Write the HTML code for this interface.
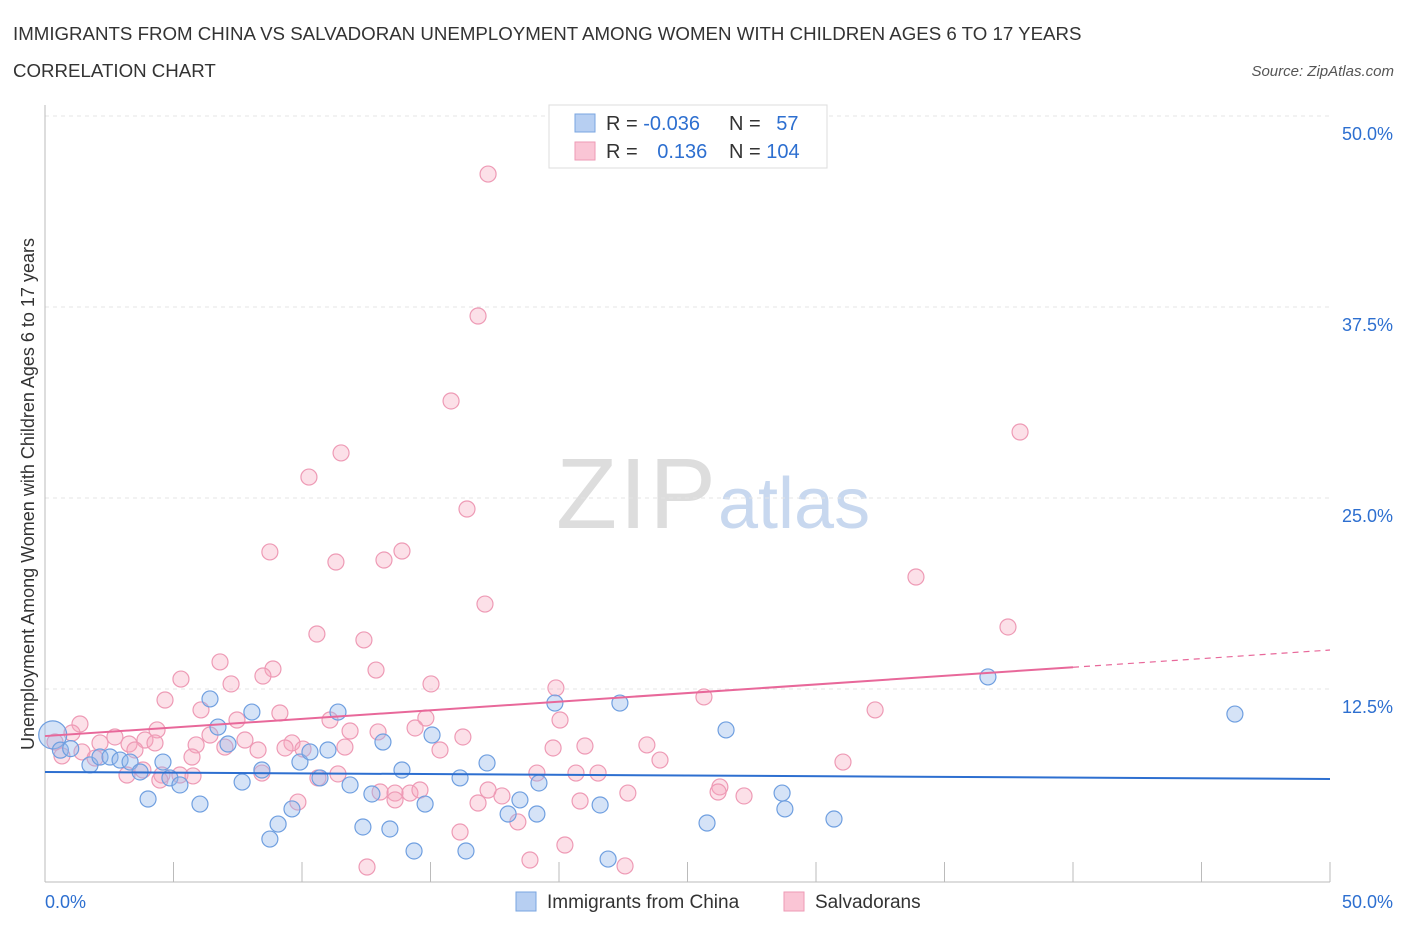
<!DOCTYPE html>
<html><head><meta charset="utf-8"><style>
body{margin:0;background:#fff;font-family:"Liberation Sans",sans-serif;}
svg text{font-family:"Liberation Sans",sans-serif;}
</style></head><body>
<svg id="chart" width="1406" height="930" xmlns="http://www.w3.org/2000/svg">
<text x="13" y="40" font-size="18.7" fill="#333">IMMIGRANTS FROM CHINA VS SALVADORAN UNEMPLOYMENT AMONG WOMEN WITH CHILDREN AGES 6 TO 17 YEARS</text>
<text x="13" y="77" font-size="18.7" fill="#333">CORRELATION CHART</text>
<text x="1394" y="76" font-size="15" fill="#555" font-style="italic" text-anchor="end">Source: ZipAtlas.com</text>
<text x="716" y="528" font-size="100" fill="#ddd" text-anchor="end" font-family="Liberation Serif" textLength="160">ZIP</text>
<text x="718" y="528" font-size="72" fill="#c8d8ef">atlas</text>
<g id="grid"></g>
<g id="axes"></g>
<g id="points"></g>
<g id="lines"></g>
<text transform="translate(34,494) rotate(-90)" font-size="18" fill="#333" text-anchor="middle">Unemployment Among Women with Children Ages 6 to 17 years</text>
<g>
<rect x="549" y="105" width="278" height="63" fill="#fff" stroke="#ddd"/>
<rect x="575" y="114" width="20" height="18" fill="#b7cff2" stroke="#7aa5e0"/>
<rect x="575" y="142" width="20" height="18" fill="#fac5d5" stroke="#ee9ab5"/>
<text x="606" y="130" font-size="20" fill="#333">R = <tspan fill="#2d6fd0">-0.036</tspan></text>
<text x="729" y="130" font-size="20" fill="#333">N = <tspan fill="#2d6fd0" dx="10">57</tspan></text>
<text x="606" y="158" font-size="20" fill="#333">R = <tspan fill="#2d6fd0" dx="14">0.136</tspan></text>
<text x="729" y="158" font-size="20" fill="#333">N = <tspan fill="#2d6fd0">104</tspan></text>
</g>
<g>
<rect x="516" y="892" width="20" height="19" fill="#b7cff2" stroke="#7aa5e0"/>
<text x="547" y="908" font-size="19" fill="#333">Immigrants from China</text>
<rect x="784" y="892" width="20" height="19" fill="#fac5d5" stroke="#ee9ab5"/>
<text x="815" y="908" font-size="19" fill="#333">Salvadorans</text>
</g>
</svg>
<script>
const blueX=[0.3,0.6,1.0,1.75,2.14,2.53,2.92,3.31,3.70,4.01,4.59,4.86,5.25,6.03,6.42,6.73,7.12,7.67,8.05,8.44,8.75,9.07,9.61,9.92,10.31,10.70,11.01,11.40,11.87,12.37,12.72,13.15,13.42,13.89,14.36,14.79,15.06,16.15,16.38,17.20,18.02,18.48,19.14,19.22,19.84,21.60,21.91,22.37,25.76,26.50,28.68,28.79,30.70,36.69,46.30];
const blueY=[9.5,8.5,8.6,7.53,8.05,8.05,7.85,7.72,7.07,5.30,7.72,6.68,6.22,4.97,11.85,10.01,8.90,6.41,10.99,7.20,2.68,3.66,4.65,7.72,8.38,6.68,8.51,10.99,6.22,3.47,5.63,9.03,3.34,7.20,1.90,4.97,9.49,6.68,1.90,7.66,4.32,5.24,4.32,6.35,11.58,4.91,1.37,11.58,3.73,9.82,5.69,4.65,3.99,13.29,10.86];
const pinkX=[17.24,16.85,15.80,37.94,11.52,10.27,16.42,8.75,13.89,11.32,13.19,33.89,17.12,37.47,10.58,12.41,6.81,8.87,12.88,8.48,5.29,15.02,19.88,7.24,4.67,25.64,6.07,9.14,32.30,14.82,11.09,7.47,20.04,14.40,11.87,4.36,1.36,1.05,3.89,2.72,6.42,7.78,9.61,12.96,16.26,4.28,0.39,2.14,3.27,9.34,10.04,11.67,8.29,5.88,7.00,3.50,1.44,15.37,19.77,21.01,23.42,0.66,5.72,1.95,3.81,4.55,5.25,8.44,10.62,5.76,3.19,19.14,20.66,21.52,23.93,26.26,26.19,27.20,22.68,31.05,13.04,13.62,14.20,17.78,9.84,20.82,16.85,18.40,16.15,20.23,18.87,12.53,22.57,17.24,11.40,14.59,13.62,4.47];
const pinkY=[46.20,36.91,31.35,29.32,27.95,26.37,24.28,21.47,21.53,20.81,20.94,19.83,18.06,16.56,16.10,15.71,14.27,13.81,13.74,13.35,13.15,12.83,12.57,12.83,11.78,11.98,11.13,10.93,11.13,10.60,10.47,10.47,10.47,9.95,9.75,9.82,10.21,9.62,9.16,9.36,9.49,9.16,8.97,9.69,9.36,8.97,9.03,8.97,8.90,8.64,8.57,8.70,8.51,8.84,8.70,8.51,8.38,8.51,8.64,8.77,8.84,8.12,8.05,7.98,7.20,6.87,6.87,7.00,6.68,6.81,6.87,7.00,7.00,7.00,7.85,6.09,5.76,5.50,5.69,7.72,5.76,5.69,5.69,5.50,5.10,5.17,5.04,3.80,3.14,2.29,1.31,0.85,0.92,5.89,6.94,5.89,5.24,6.54];
const yTicks=[12.5,25,37.5,50];
const yTickLabels=["12.5%","25.0%","37.5%","50.0%"];
const blueTrend=[7.07,6.61];
const pinkTrend=[9.42,15.05];
const pinkSolidEnd=40;
const NS="http://www.w3.org/2000/svg";
const sx=v=>45+v*25.7, sy=v=>880-v*15.28;
function mk(tag,attrs,parent){const e=document.createElementNS(NS,tag);for(const k in attrs)e.setAttribute(k,attrs[k]);document.getElementById(parent).appendChild(e);return e;}
yTicks.forEach((t,i)=>{
 const g=mk('line',{x1:45,x2:1330,y1:sy(t),y2:sy(t),stroke:'#e4e4e4','stroke-dasharray':'4,4'},'grid');
 
 
 const l=mk('text',{x:1393,y:sy(t)+24,'font-size':18,fill:'#2d6fd0','text-anchor':'end'},'grid');
 l.textContent=yTickLabels[i];
 
 
});
const ax=mk('line',{x1:45,x2:1330,y1:882,y2:882,stroke:'#bbb'},'axes');


const ay=mk('line',{x1:45,x2:45,y1:105,y2:882,stroke:'#bbb'},'axes');


for(let i=0;i<=10;i++){
 const t=mk('line',{x1:sx(i*5),x2:sx(i*5),y1:862,y2:882,stroke:'#bbb'},'axes');
 
 
}
[[0,"0.0%",'start',45],[50,"50.0%",'end',1393]].forEach(a=>{
 const l=mk('text',{x:a[3],y:908,'font-size':18,fill:'#2d6fd0','text-anchor':a[2]},'axes');
 l.textContent=a[1];
 
 
});
pinkX.forEach((x,i)=>{
 const c=mk('circle',{cx:sx(x),cy:sy(pinkY[i]),r:8,fill:'rgba(245,165,190,0.35)',stroke:'#ee9ab5','stroke-width':1.2},'points');
 
 
});
blueX.forEach((x,i)=>{
 const c=mk('circle',{cx:sx(x),cy:sy(blueY[i]),r:i===0?14:8,fill:'rgba(150,185,235,0.4)',stroke:'#6f9fe0','stroke-width':1.2},'points');
 
 
});
const bl=mk('line',{x1:sx(0),y1:sy(blueTrend[0]),x2:sx(50),y2:sy(blueTrend[1]),stroke:'#2d6fd0','stroke-width':2},'lines');


const pm=pinkTrend[0]+(pinkTrend[1]-pinkTrend[0])*pinkSolidEnd/50;
const pl=mk('line',{x1:sx(0),y1:sy(pinkTrend[0]),x2:sx(pinkSolidEnd),y2:sy(pm),stroke:'#e8689a','stroke-width':2},'lines');


const pd=mk('line',{x1:sx(pinkSolidEnd),y1:sy(pm),x2:sx(50),y2:sy(pinkTrend[1]),stroke:'#e8689a','stroke-width':1.2,'stroke-dasharray':'6,5'},'lines');


</script>
</body></html>
